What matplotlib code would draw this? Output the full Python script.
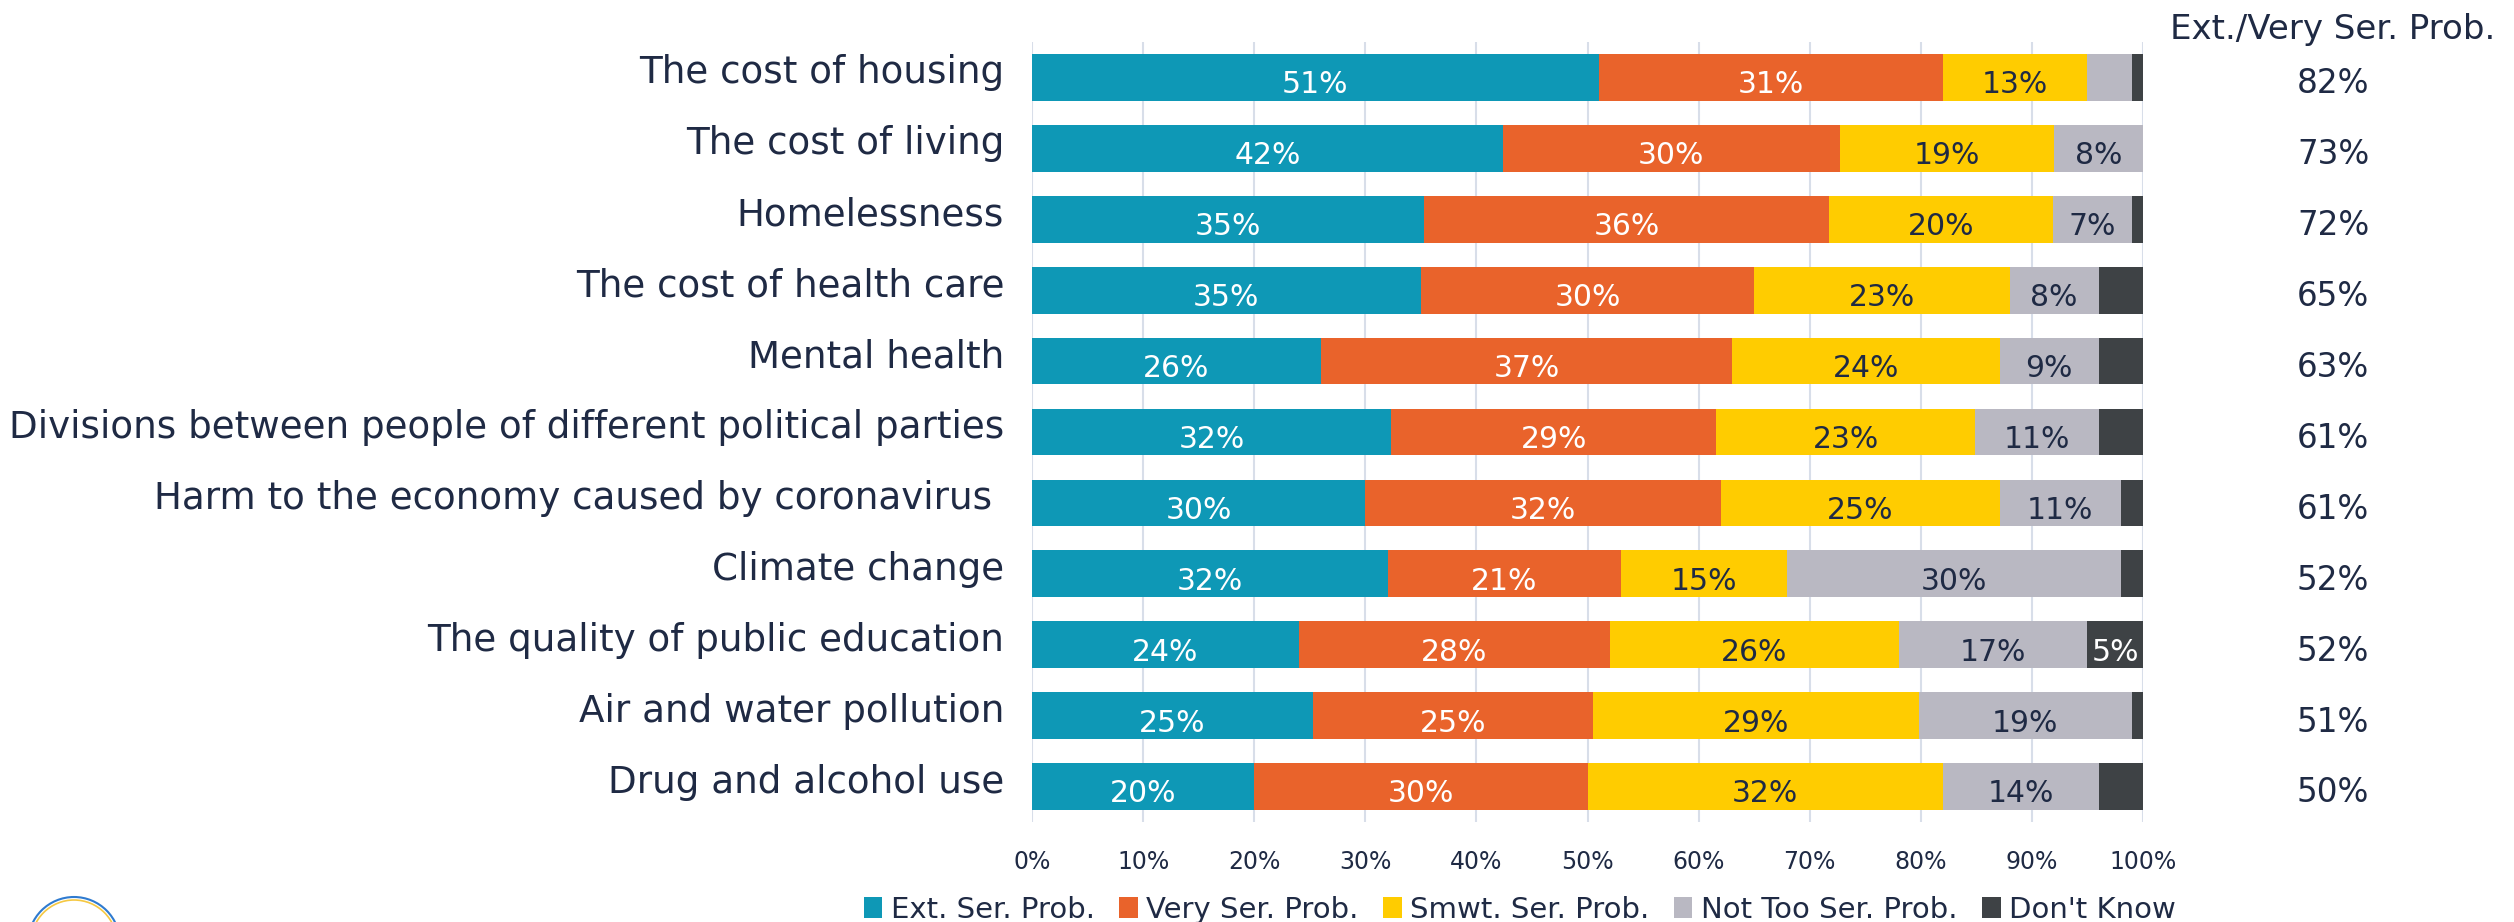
import matplotlib
matplotlib.use("Agg")
import matplotlib.pyplot as plt
from matplotlib.patches import Patch, Circle
from matplotlib.transforms import ScaledTranslation
import numpy as np

plt.rcParams['font.family'] = ['DejaVu Sans']

# ---------------- data ----------------
categories = [
    "The cost of housing",
    "The cost of living",
    "Homelessness",
    "The cost of health care",
    "Mental health",
    "Divisions between people of different political parties",
    "Harm to the economy caused by coronavirus ",
    "Climate change",
    "The quality of public education",
    "Air and water pollution",
    "Drug and alcohol use",
]
ext_ser = [51, 42.4, 35.3, 35, 26, 32.3, 30, 32, 24, 25.3, 20]
very_ser = [31, 30.3, 36.4, 30, 37, 29.3, 32, 21, 28, 25.2, 30]
smwt_ser = [13, 19.3, 20.2, 23, 24.1, 23.3, 25.1, 15, 26, 29.3, 32]
not_too_ser = [4, 8, 7.1, 8, 8.9, 11.1, 10.9, 30, 17, 19.2, 14]
dont_know = [1, 0, 1, 4, 4, 4, 2, 2, 5, 1, 4]
ext_very_labels = ["82%", "73%", "72%", "65%", "63%", "61%", "61%", "52%", "52%", "51%", "50%"]
series_names = ["Ext. Ser. Prob.", "Very Ser. Prob.", "Smwt. Ser. Prob.", "Not Too Ser. Prob.", "Don't Know"]
xtick_values = list(range(0, 101, 10))
right_header = "Ext./Very Ser. Prob."

# ---------------- style ----------------
colors = ["#0E98B6", "#E9632B", "#FFCC00", "#B9B8C2", "#3E4245"]
label_colors = ["white", "white", "#1F2A44", "#1F2A44", "white"]
navy = "#1F2A44"
grid_c = "#D8DEE9"

W, H = 2514, 922
fig = plt.figure(figsize=(W / 100, H / 100), dpi=100)

# background axes in pixel coords (for logo / header)
bg = fig.add_axes([0, 0, 1, 1], zorder=0)
bg.set_xlim(0, W)
bg.set_ylim(H, 0)
bg.axis("off")

ax = fig.add_axes([1032 / W, 100 / H, 1111 / W, 780 / H], zorder=1)
ax.patch.set_alpha(0)

n = len(categories)
y = np.arange(n)
left = np.zeros(n)
series = [ext_ser, very_ser, smwt_ser, not_too_ser, dont_know]
label_dy = 0.225  # baseline offset (in category units) for in-bar / right-column numbers
for vals, c, lc in zip(series, colors, label_colors):
    vals = np.array(vals, dtype=float)
    ax.barh(y, vals, left=left, height=0.66, color=c, edgecolor="none", zorder=2)
    for yi, l0, v in zip(y, left, vals):
        if round(v) >= 5:
            ax.text(l0 + v / 2, yi + label_dy, f"{int(round(v))}%", ha="center",
                    va="baseline", color=lc, fontsize=21.5, zorder=3)
    left += vals

ax.set_xlim(0, 100)
ax.set_ylim(n - 0.5, -0.5)
ax.set_xticks(xtick_values)
ax.set_xticklabels([f"{v}%" for v in xtick_values], fontsize=17, color=navy)
ax.set_yticks(y)
ax.set_yticklabels(categories, fontsize=26.8, color=navy)
ax.tick_params(axis="both", length=0)
ax.tick_params(axis="x", pad=20)
ax.tick_params(axis="y", pad=20)
shift = ScaledTranslation(0, -6 / 100, fig.dpi_scale_trans)
for lab in ax.get_yticklabels():
    lab.set_va("baseline")
    lab.set_transform(lab.get_transform() + shift)
ax.grid(axis="x", color=grid_c, lw=1.5, zorder=0)
ax.set_axisbelow(True)
for s in ax.spines.values():
    s.set_visible(False)

# right-hand summary column
x_right = (2333 - 1032) / 1111 * 100
for yi, lab in zip(y, ext_very_labels):
    ax.text(x_right, yi + label_dy, lab, ha="center", va="baseline", fontsize=23.5,
            color=navy, clip_on=False)
bg.text(2333, 39, right_header, ha="center", va="baseline", fontsize=24.5, color=navy)

# legend
handles = [Patch(facecolor=c, edgecolor="none") for c in colors]
fig.legend(handles, series_names, loc="center", bbox_to_anchor=(1520 / W, 12 / H),
           ncol=5, frameon=False, fontsize=21, handlelength=0.62, handleheight=0.72,
           handletextpad=0.3, columnspacing=0.85, labelcolor=navy, borderpad=0)

# partially visible logo at bottom-left
bg.add_patch(Circle((74, 943), 46, fill=False, ec="#2F7BD0", lw=1.5))
bg.add_patch(Circle((74, 943), 43, fill=False, ec="#F5C842", lw=1.2))

fig.savefig("out.png", dpi=100)
